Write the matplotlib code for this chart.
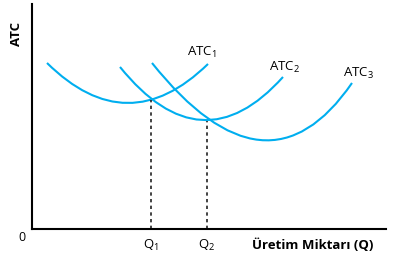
import matplotlib
matplotlib.use("Agg")
import matplotlib.pyplot as plt
from matplotlib.path import Path
from matplotlib.patches import PathPatch

plt.rcParams["font.family"] = ["Open Sans", "DejaVu Sans"]
plt.rcParams["mathtext.default"] = "regular"

# ===== curve data (start, control, end) =====
curve_names = ["ATC$_1$", "ATC$_2$", "ATC$_3$"]
curve_x = [[15, 95.5, 176], [88, 169.5, 251], [120, 235, 320]]
curve_y = [[166, 86.5, 165], [162, 61, 152], [166, 22, 146]]
label_pos = [(170, 177), (252, 162), (326, 156)]

# ===== Q levels =====
q_labels = ["Q$_1$", "Q$_2$"]
q_x = [119, 175]
q_top = [129, 108]

cyan = "#00AEEF"

fig = plt.figure(figsize=(4, 2.56), dpi=100)
ax = fig.add_axes([0.08, 0.1055, 0.885, 0.879])
ax.set_xlim(0, 354)
ax.set_ylim(0, 225)

for xs, ys in zip(curve_x, curve_y):
    verts = list(zip(xs, ys))
    path = Path(verts, [Path.MOVETO, Path.CURVE3, Path.CURVE3])
    ax.add_patch(PathPatch(path, fill=False, edgecolor=cyan, lw=1.5))

for name, (lx, ly) in zip(curve_names, label_pos):
    ax.text(lx, ly, name, fontsize=9.5, ha="center", va="center")

for qx, qt, ql in zip(q_x, q_top, q_labels):
    ax.plot([qx, qx], [0, qt], color="#222222", lw=1.2, ls=(0, (2, 2)))
    ax.text(qx, -9, ql, fontsize=9.5, ha="center", va="top", clip_on=False)

ax.text(-10, -9, "0", fontsize=9, ha="center", va="center")
ax.text(281, -16, "Üretim Miktarı (Q)", fontsize=9.5, fontweight="bold",
        ha="center", va="center")
ax.text(-16, 195, "ATC", fontsize=9.5, fontweight="bold", rotation=90,
        ha="center", va="center")

for s in ["top", "right"]:
    ax.spines[s].set_visible(False)
ax.spines["left"].set_linewidth(1.5)
ax.spines["bottom"].set_linewidth(1.5)
ax.set_xticks([])
ax.set_yticks([])

fig.savefig("out.png", dpi=100)
